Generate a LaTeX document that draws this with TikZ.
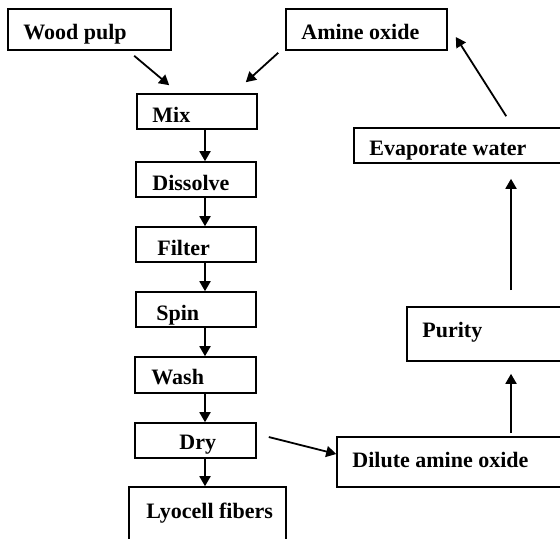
\documentclass[tikz,border=0pt]{standalone}
\usepackage{fontspec}
\setmainfont{Liberation Serif}
\usetikzlibrary{arrows.meta,calc,fit}
\tikzset{
  box/.style={draw=black, line width=0.8pt, inner sep=0pt, rectangle},
  lbl/.style={anchor=base west, inner sep=0pt, font=\fontsize{11}{13}\selectfont\bfseries},
  arr/.style={line width=0.9pt, -{Triangle[length=5pt,width=5.5pt]}}
}
\begin{document}
\begin{tikzpicture}[x=0.5pt,y=-0.5pt]
\useasboundingbox (0,0) rectangle (560,538);
\clip (0,0) rectangle (560,538);
% boxes
\node[box, fit={(8,9) (171,50)}] (wood) {};
\node[box, fit={(286,9) (447,50)}] (amine) {};
\node[box, fit={(137,94) (257,129)}] (mix) {};
\node[box, fit={(136,162) (256,197)}] (dis) {};
\node[box, fit={(136,227) (256,262)}] (fil) {};
\node[box, fit={(136,292) (256,327)}] (spin) {};
\node[box, fit={(135,357) (256,393)}] (wash) {};
\node[box, fit={(135,423) (256,458)}] (dry) {};
\node[box, fit={(129,487) (286,570)}] (lyo) {};
\node[box, fit={(337,437) (575,487)}] (dil) {};
\node[box, fit={(407,307) (575,361)}] (pur) {};
\node[box, fit={(354,128) (575,163)}] (eva) {};
% labels
\node[lbl] (woodt) at (23,39) {Wood pulp};
\node[lbl] (aminet) at (301,39) {Amine oxide};
\node[lbl] (mixt) at (152,122) {Mix};
\node[lbl] (dist) at (152,190) {Dissolve};
\node[lbl] (filt) at (157,255) {Filter};
\node[lbl] (spint) at (156,320) {Spin};
\node[lbl] (washt) at (151,384) {Wash};
\node[lbl] (dryt) at (179,449) {Dry};
\node[lbl] (lyot) at (146,518) {Lyocell fibers};
\node[lbl] (dilt) at (352,467) {Dilute amine oxide};
\node[lbl] (purt) at (422,337) {Purity};
\node[lbl] (evat) at (369,155) {Evaporate water};
% connectors
\coordinate (ax) at (205,0);
\coordinate (ax2) at (511,0);
\draw[arr] ($(wood.south west)+(127,5)$) -- ($(mix.north west)+(33,-8)$);
\draw[arr] ($(amine.south west)+(-7,2)$) -- ($(mix.north east)+(-12,-11)$);
\draw[arr] (mix.south -| ax) -- (dis.north -| ax);
\draw[arr] (dis.south -| ax) -- (fil.north -| ax);
\draw[arr] (fil.south -| ax) -- (spin.north -| ax);
\draw[arr] (spin.south -| ax) -- (wash.north -| ax);
\draw[arr] (wash.south -| ax) -- (dry.north -| ax);
\draw[arr] (dry.south -| ax) -- (lyo.north -| ax);
\draw[arr] ($(dry.east)+(12,-3.5)$) -- ($(dil.west)+(0,-8)$);
\draw[arr] ($(dil.north -| ax2)+(0,-3)$) -- ($(pur.south -| ax2)+(0,12)$);
\draw[arr] ($(pur.north -| ax2)+(0,-16)$) -- ($(eva.south -| ax2)+(0,15)$);
\draw[arr] ($(eva.north west)+(153,-11)$) -- ($(amine.east)+(8,7.5)$);
\end{tikzpicture}
\end{document}
